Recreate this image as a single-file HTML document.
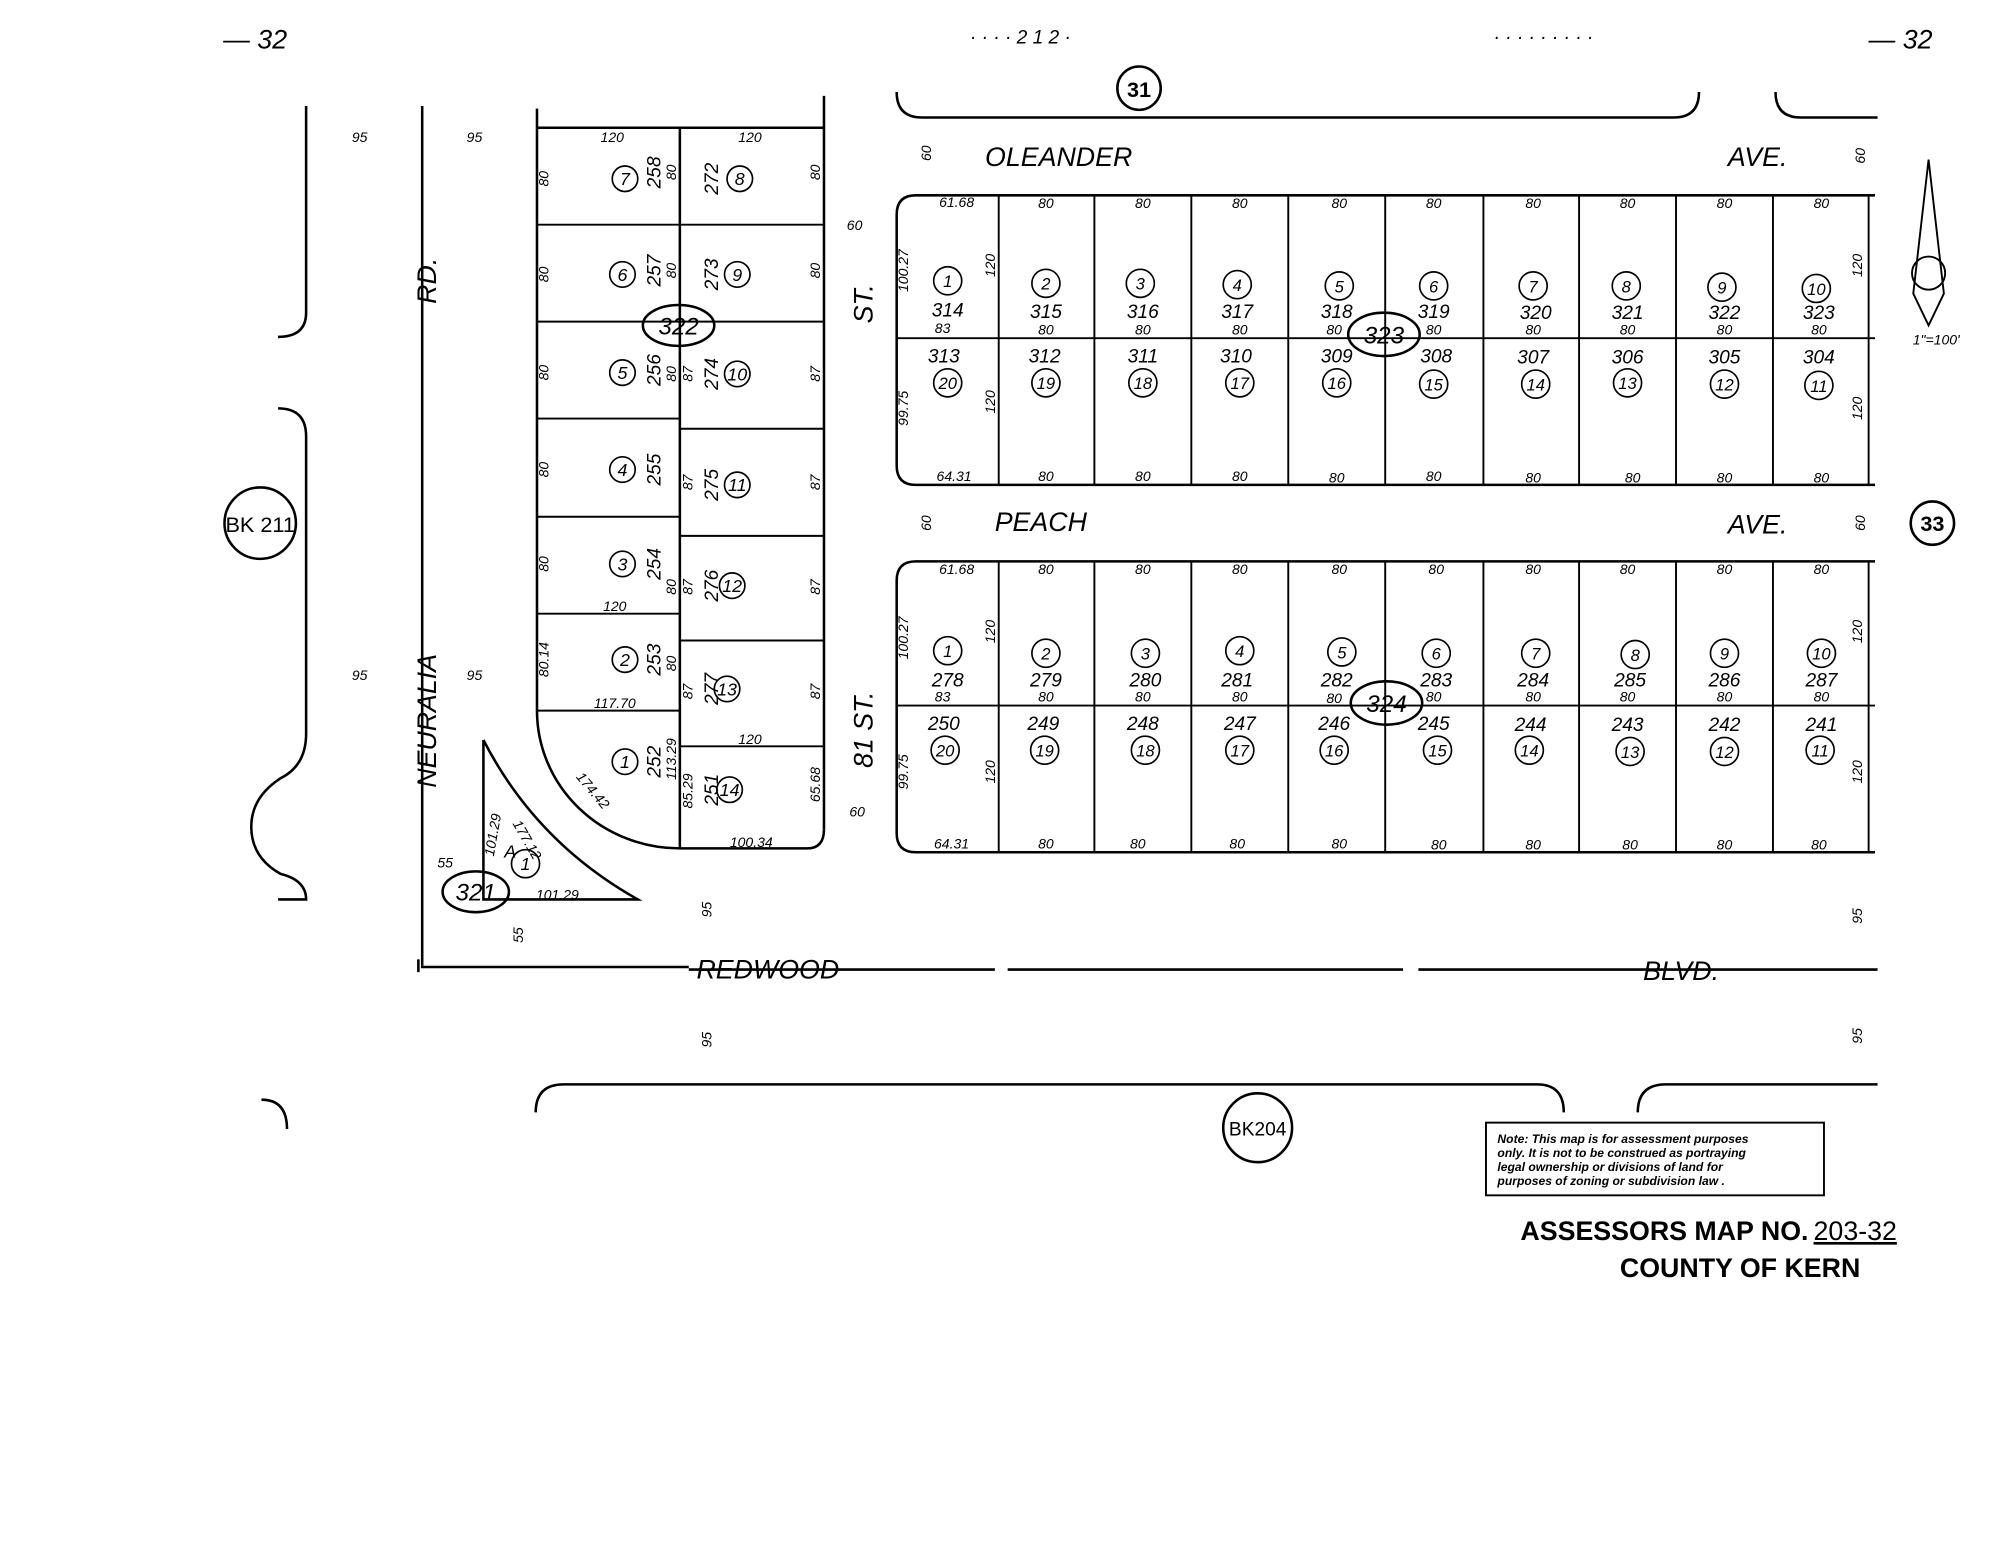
<!DOCTYPE html>
<html><head><meta charset="utf-8"><style>
html,body{margin:0;padding:0;background:#fff;}
svg{display:block;}
text{font-family:"Liberation Sans",sans-serif;font-style:italic;fill:#000;}
.s{font-size:11px;}
.m{font-size:15px;}
.l{font-size:21px;}
.c{fill:none;stroke:#000;stroke-width:1.5;}
</style></head><body>
<svg width="2000" height="1545" viewBox="0 0 1568 1211" xmlns="http://www.w3.org/2000/svg">
<g fill="none" stroke="#000" stroke-width="2">
<!-- top brackets -->
<path d="M703 72 Q703 92 723 92 L1312 92 Q1332 92 1332 72"/>
<path d="M1392 72 Q1392 92 1412 92 L1472 92"/>
<!-- left brackets -->
<path d="M240 83 L240 245 Q240 264 218 264"/>
<path d="M218 320 Q240 320 240 342 L240 575 Q240 600 220 610 Q197 625 197 648 Q197 672 220 685 Q240 690 240 705 L218 705"/>
<path d="M205 862 Q225 862 225 885"/>
<!-- Neuralia -->
<line x1="331" y1="83" x2="331" y2="757"/>
<!-- block 322 -->
<line x1="421" y1="85" x2="421" y2="557"/>
<line x1="421" y1="100" x2="646" y2="100"/>
<line x1="646" y1="75" x2="646" y2="650"/>
<path d="M421 557 A112 108 0 0 0 533 665 L633 665 Q646 665 646 650"/>
<line x1="533" y1="100" x2="533" y2="665"/>
<g stroke-width="1.5">
<line x1="421" y1="176" x2="646" y2="176"/>
<line x1="421" y1="252" x2="646" y2="252"/>
<line x1="421" y1="328" x2="533" y2="328"/>
<line x1="421" y1="405" x2="533" y2="405"/>
<line x1="421" y1="481" x2="533" y2="481"/>
<line x1="421" y1="557" x2="533" y2="557"/>
<line x1="533" y1="336" x2="646" y2="336"/>
<line x1="533" y1="420" x2="646" y2="420"/>
<line x1="533" y1="502" x2="646" y2="502"/>
<line x1="533" y1="585" x2="646" y2="585"/>
</g>
<!-- triangle 321 -->
<path d="M379 580 L379 705 L500 705 Q420 660 379 580"/>
<!-- blocks 323/324 -->
<path d="M1470 153 L718 153 Q703 153 703 168 L703 365 Q703 380 718 380 L1470 380"/>
<line x1="703" y1="265" x2="1470" y2="265" stroke-width="1.5"/>
<path d="M1470 440 L718 440 Q703 440 703 455 L703 653 Q703 668 718 668 L1470 668"/>
<line x1="703" y1="553" x2="1470" y2="553" stroke-width="1.5"/>
<g stroke-width="1.5">
<path d="M783 153V380M858 153V380M934 153V380M1010 153V380M1086 153V380M1163 153V380M1238 153V380M1314 153V380M1390 153V380M1465 153V380"/>
<path d="M783 440V668M858 440V668M934 440V668M1010 440V668M1086 440V668M1163 440V668M1238 440V668M1314 440V668M1390 440V668M1465 440V668"/>
</g>
<!-- Redwood -->
<path d="M330 758 L540 758 M540 760 L780 760 M790 760 L1100 760 M1112 760 L1472 760"/>
<line x1="328" y1="752" x2="328" y2="762"/>
<!-- bottom brackets -->
<path d="M420 872 Q420 850 442 850 L1205 850 Q1226 850 1226 872"/>
<path d="M1284 872 Q1284 850 1306 850 L1472 850"/>
<!-- circles -->
<circle cx="893" cy="69" r="17"/>
<circle cx="204" cy="410" r="28"/>
<circle cx="986" cy="884" r="27"/>
<circle cx="1515" cy="410" r="17"/>
<ellipse cx="532" cy="255" rx="28" ry="16"/>
<ellipse cx="1085" cy="262" rx="28" ry="17"/>
<ellipse cx="1087" cy="551" rx="28" ry="17"/>
<ellipse cx="373" cy="699" rx="26" ry="16"/>
<!-- north arrow -->
<path d="M1512 125 L1500 230 L1512 255 L1524 230 Z" stroke-width="1.5"/>
<circle cx="1512" cy="214" r="13" stroke-width="1.5"/>
<!-- note box -->
<rect x="1165" y="880" width="265" height="57" stroke-width="1.5"/>
</g>
<g fill="none" stroke="#000" stroke-width="1.3">
<circle cx="490" cy="140" r="10"/><circle cx="488" cy="215" r="10"/><circle cx="488" cy="292" r="10"/><circle cx="488" cy="368" r="10"/><circle cx="488" cy="442" r="10"/><circle cx="490" cy="517" r="10"/><circle cx="490" cy="597" r="10"/>
<circle cx="580" cy="140" r="10"/><circle cx="578" cy="215" r="10"/><circle cx="578" cy="293" r="10"/><circle cx="578" cy="380" r="10"/><circle cx="574" cy="459" r="10"/><circle cx="570" cy="540" r="10"/><circle cx="572" cy="619" r="10"/>
<circle cx="412" cy="677" r="11"/>
<circle cx="743" cy="220" r="11"/><circle cx="820" cy="222" r="11"/><circle cx="894" cy="222" r="11"/><circle cx="970" cy="223" r="11"/><circle cx="1050" cy="224" r="11"/><circle cx="1124" cy="224" r="11"/><circle cx="1202" cy="224" r="11"/><circle cx="1275" cy="224" r="11"/><circle cx="1350" cy="225" r="11"/><circle cx="1424" cy="226" r="11"/>
<circle cx="743" cy="300" r="11"/><circle cx="820" cy="300" r="11"/><circle cx="896" cy="300" r="11"/><circle cx="972" cy="300" r="11"/><circle cx="1048" cy="300" r="11"/><circle cx="1124" cy="301" r="11"/><circle cx="1204" cy="301" r="11"/><circle cx="1276" cy="300" r="11"/><circle cx="1352" cy="301" r="11"/><circle cx="1426" cy="302" r="11"/>
<circle cx="743" cy="510" r="11"/><circle cx="820" cy="512" r="11"/><circle cx="898" cy="512" r="11"/><circle cx="972" cy="510" r="11"/><circle cx="1052" cy="511" r="11"/><circle cx="1126" cy="512" r="11"/><circle cx="1204" cy="512" r="11"/><circle cx="1282" cy="513" r="11"/><circle cx="1352" cy="512" r="11"/><circle cx="1428" cy="512" r="11"/>
<circle cx="741" cy="588" r="11"/><circle cx="819" cy="588" r="11"/><circle cx="898" cy="588" r="11"/><circle cx="972" cy="588" r="11"/><circle cx="1046" cy="588" r="11"/><circle cx="1127" cy="588" r="11"/><circle cx="1199" cy="588" r="11"/><circle cx="1278" cy="589" r="11"/><circle cx="1352" cy="589" r="11"/><circle cx="1427" cy="588" r="11"/>
</g>
<g text-anchor="middle">
<!-- header fragments -->
<text x="200" y="38" class="l">—  32</text>
<text x="800" y="34" class="m">· · · ·  2 1 2 · </text>
<text x="1210" y="34" class="m">· · · ·  · · · · ·</text>
<text x="1490" y="38" class="l">—  32</text>
<text x="893" y="76" font-size="17" style="font-style:normal;font-weight:bold">31</text>
<text x="204" y="417" font-size="17" style="font-style:normal">BK 211</text>
<text x="986" y="890" font-size="15" style="font-style:normal">BK204</text>
<text x="1515" y="416" font-size="17" style="font-style:normal;font-weight:bold">33</text>
<text x="830" y="130" class="l">OLEANDER</text><text x="1378" y="130" class="l">AVE.</text>
<text x="816" y="416" class="l">PEACH</text><text x="1378" y="418" class="l">AVE.</text>
<text x="602" y="767" class="l">REDWOOD</text><text x="1318" y="768" class="l">BLVD.</text>
<text transform="translate(342,220) rotate(-90)" class="l">RD.</text>
<text transform="translate(342,565) rotate(-90)" class="l">NEURALIA</text>
<text transform="translate(684,238) rotate(-90)" class="l">ST.</text>
<text transform="translate(684,572) rotate(-90)" class="l">81 ST.</text>
<text x="532" y="262" font-size="19">322</text>
<text x="1085" y="269" font-size="19">323</text>
<text x="1087" y="558" font-size="19">324</text>
<text x="373" y="706" font-size="19">321</text>
<text x="1518" y="270" class="s">1"=100'</text>
<!-- small dims -->
<g class="s">
<text x="282" y="111">95</text><text x="372" y="111">95</text><text x="282" y="533">95</text><text x="372" y="533">95</text>
<text x="480" y="111">120</text><text x="588" y="111">120</text><text x="482" y="479">120</text><text x="588" y="583">120</text>
<text x="482" y="555">117.70</text><text x="589" y="664">100.34</text>
<text x="670" y="180">60</text><text x="672" y="640">60</text>
<text x="349" y="680">55</text><text x="437" y="705">101.29</text>
<text x="748" y="377">64.31</text><text x="746" y="665">64.31</text>
<text x="750" y="162">61.68</text><text x="750" y="450">61.68</text>
<text x="739" y="261">83</text><text x="739" y="550">83</text>
</g>
<g class="s">
<text transform="translate(430,140) rotate(-90)">80</text><text transform="translate(430,215) rotate(-90)">80</text><text transform="translate(430,292) rotate(-90)">80</text><text transform="translate(430,368) rotate(-90)">80</text><text transform="translate(430,442) rotate(-90)">80</text><text transform="translate(430,517) rotate(-90)">80.14</text>
<text transform="translate(643,135) rotate(-90)">80</text><text transform="translate(643,212) rotate(-90)">80</text><text transform="translate(643,293) rotate(-90)">87</text><text transform="translate(643,378) rotate(-90)">87</text><text transform="translate(643,460) rotate(-90)">87</text><text transform="translate(643,542) rotate(-90)">87</text><text transform="translate(643,615) rotate(-90)">65.68</text>
<text transform="translate(530,135) rotate(-90)">80</text><text transform="translate(530,212) rotate(-90)">80</text><text transform="translate(530,293) rotate(-90)">80</text><text transform="translate(543,293) rotate(-90)">87</text><text transform="translate(543,378) rotate(-90)">87</text><text transform="translate(543,460) rotate(-90)">87</text><text transform="translate(543,542) rotate(-90)">87</text><text transform="translate(543,620) rotate(-90)">85.29</text><text transform="translate(530,460) rotate(-90)">80</text><text transform="translate(530,520) rotate(-90)">80</text><text transform="translate(530,595) rotate(-90)">113.29</text>
<text transform="translate(462,622) rotate(50)">174.42</text>
<text transform="translate(390,655) rotate(-80)">101.29</text><text transform="translate(410,660) rotate(60)">177.12</text>
<text transform="translate(730,120) rotate(-90)">60</text><text transform="translate(1462,122) rotate(-90)">60</text><text transform="translate(730,410) rotate(-90)">60</text><text transform="translate(1462,410) rotate(-90)">60</text>
<text transform="translate(712,212) rotate(-90)">100.27</text><text transform="translate(712,500) rotate(-90)">100.27</text>
<text transform="translate(712,320) rotate(-90)">99.75</text><text transform="translate(712,605) rotate(-90)">99.75</text>
<text transform="translate(780,208) rotate(-90)">120</text><text transform="translate(780,315) rotate(-90)">120</text><text transform="translate(780,495) rotate(-90)">120</text><text transform="translate(780,605) rotate(-90)">120</text>
<text transform="translate(1460,208) rotate(-90)">120</text><text transform="translate(1460,320) rotate(-90)">120</text><text transform="translate(1460,495) rotate(-90)">120</text><text transform="translate(1460,605) rotate(-90)">120</text>
<text transform="translate(558,713) rotate(-90)">95</text><text transform="translate(558,815) rotate(-90)">95</text><text transform="translate(1460,718) rotate(-90)">95</text><text transform="translate(1460,812) rotate(-90)">95</text><text transform="translate(410,733) rotate(-90)">55</text>
</g>
<!-- block 322 lot numbers -->
<g font-size="14">
<text x="490" y="145">7</text><text x="488" y="220">6</text><text x="488" y="297">5</text><text x="488" y="373">4</text><text x="488" y="447">3</text><text x="490" y="522">2</text><text x="490" y="602">1</text>
<text x="580" y="145">8</text><text x="578" y="220">9</text><text x="578" y="298">10</text><text x="578" y="385">11</text><text x="574" y="464">12</text><text x="570" y="545">13</text><text x="572" y="624">14</text>
<text x="412" y="682">1</text><text x="400" y="672">A</text>
</g>
<g font-size="15">
<text transform="translate(518,135) rotate(-90)">258</text><text transform="translate(518,212) rotate(-90)">257</text><text transform="translate(518,290) rotate(-90)">256</text><text transform="translate(518,368) rotate(-90)">255</text><text transform="translate(518,442) rotate(-90)">254</text><text transform="translate(518,517) rotate(-90)">253</text><text transform="translate(518,597) rotate(-90)">252</text>
<text transform="translate(563,140) rotate(-90)">272</text><text transform="translate(563,215) rotate(-90)">273</text><text transform="translate(563,293) rotate(-90)">274</text><text transform="translate(563,380) rotate(-90)">275</text><text transform="translate(563,459) rotate(-90)">276</text><text transform="translate(563,540) rotate(-90)">277</text><text transform="translate(563,619) rotate(-90)">251</text>
</g>
<!-- block 323 -->
<g class="s" font-size="12">
<text x="820" y="163">80</text><text x="896" y="163">80</text><text x="972" y="163">80</text><text x="1050" y="163">80</text><text x="1124" y="163">80</text><text x="1202" y="163">80</text><text x="1276" y="163">80</text><text x="1352" y="163">80</text><text x="1428" y="163">80</text>
<text x="820" y="377">80</text><text x="896" y="377">80</text><text x="972" y="377">80</text><text x="1048" y="378">80</text><text x="1124" y="377">80</text><text x="1202" y="378">80</text><text x="1280" y="378">80</text><text x="1352" y="378">80</text><text x="1428" y="378">80</text>
<text x="820" y="450">80</text><text x="896" y="450">80</text><text x="972" y="450">80</text><text x="1050" y="450">80</text><text x="1126" y="450">80</text><text x="1202" y="450">80</text><text x="1276" y="450">80</text><text x="1352" y="450">80</text><text x="1428" y="450">80</text>
<text x="820" y="665">80</text><text x="892" y="665">80</text><text x="970" y="665">80</text><text x="1050" y="665">80</text><text x="1128" y="666">80</text><text x="1202" y="666">80</text><text x="1278" y="666">80</text><text x="1352" y="666">80</text><text x="1426" y="666">80</text>
<text x="820" y="262">80</text><text x="896" y="262">80</text><text x="972" y="262">80</text><text x="1046" y="262">80</text><text x="1124" y="262">80</text><text x="1202" y="262">80</text><text x="1276" y="262">80</text><text x="1352" y="262">80</text><text x="1426" y="262">80</text>
<text x="820" y="550">80</text><text x="896" y="550">80</text><text x="972" y="550">80</text><text x="1046" y="551">80</text><text x="1124" y="550">80</text><text x="1202" y="550">80</text><text x="1276" y="550">80</text><text x="1352" y="550">80</text><text x="1428" y="550">80</text>
</g>
<g font-size="13">
<text x="743" y="225">1</text><text x="820" y="227">2</text><text x="894" y="227">3</text><text x="970" y="228">4</text><text x="1050" y="229">5</text><text x="1124" y="229">6</text><text x="1202" y="229">7</text><text x="1275" y="229">8</text><text x="1350" y="230">9</text><text x="1424" y="231">10</text>
<text x="743" y="305">20</text><text x="820" y="305">19</text><text x="896" y="305">18</text><text x="972" y="305">17</text><text x="1048" y="305">16</text><text x="1124" y="306">15</text><text x="1204" y="306">14</text><text x="1276" y="305">13</text><text x="1352" y="306">12</text><text x="1426" y="307">11</text>
<text x="743" y="515">1</text><text x="820" y="517">2</text><text x="898" y="517">3</text><text x="972" y="515">4</text><text x="1052" y="516">5</text><text x="1126" y="517">6</text><text x="1204" y="517">7</text><text x="1282" y="518">8</text><text x="1352" y="517">9</text><text x="1428" y="517">10</text>
<text x="741" y="593">20</text><text x="819" y="593">19</text><text x="898" y="593">18</text><text x="972" y="593">17</text><text x="1046" y="593">16</text><text x="1127" y="593">15</text><text x="1199" y="593">14</text><text x="1278" y="594">13</text><text x="1352" y="594">12</text><text x="1427" y="593">11</text>
</g>
<g font-size="15">
<text x="743" y="248">314</text><text x="820" y="249">315</text><text x="896" y="249">316</text><text x="970" y="249">317</text><text x="1048" y="249">318</text><text x="1124" y="249">319</text><text x="1204" y="250">320</text><text x="1276" y="250">321</text><text x="1352" y="250">322</text><text x="1426" y="250">323</text>
<text x="740" y="284">313</text><text x="819" y="284">312</text><text x="896" y="284">311</text><text x="969" y="284">310</text><text x="1048" y="284">309</text><text x="1126" y="284">308</text><text x="1202" y="285">307</text><text x="1276" y="285">306</text><text x="1352" y="285">305</text><text x="1426" y="285">304</text>
<text x="743" y="538">278</text><text x="820" y="538">279</text><text x="898" y="538">280</text><text x="970" y="538">281</text><text x="1048" y="538">282</text><text x="1126" y="538">283</text><text x="1202" y="538">284</text><text x="1278" y="538">285</text><text x="1352" y="538">286</text><text x="1428" y="538">287</text>
<text x="740" y="572">250</text><text x="818" y="572">249</text><text x="896" y="572">248</text><text x="972" y="572">247</text><text x="1046" y="572">246</text><text x="1124" y="572">245</text><text x="1200" y="573">244</text><text x="1276" y="573">243</text><text x="1352" y="573">242</text><text x="1428" y="573">241</text>
</g>
</g>
<g style="font-style:normal;font-weight:bold" font-size="9.5">
<text x="1174" y="896">Note: This map is for assessment purposes</text>
<text x="1174" y="907">only. It is not to be construed as portraying</text>
<text x="1174" y="918">legal ownership or divisions of land for</text>
<text x="1174" y="929">purposes of zoning or subdivision law .</text>
</g>
<text x="1192" y="972" font-size="21" style="font-style:normal;font-weight:bold">ASSESSORS MAP NO.<tspan font-weight="normal" dx="4" text-decoration="underline">203-32</tspan></text>
<text x="1270" y="1001" font-size="21" style="font-style:normal;font-weight:bold">COUNTY OF KERN</text>
</svg>
</body></html>
